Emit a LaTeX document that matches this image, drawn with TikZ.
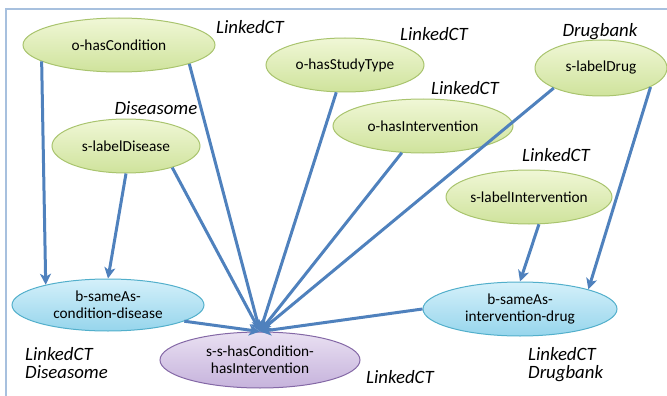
\documentclass[tikz,border=0pt]{standalone}
\usepackage{fontspec}
\setmainfont{Carlito}
\usetikzlibrary{shapes.geometric, arrows.meta}

\definecolor{grTop}{HTML}{F0F7D6}
\definecolor{grBot}{HTML}{CFE39C}
\definecolor{grLine}{HTML}{A9C46E}
\definecolor{blTop}{HTML}{D4F0FA}
\definecolor{blBot}{HTML}{96D5EC}
\definecolor{blLine}{HTML}{52AFCB}
\definecolor{puTop}{HTML}{E9E0F2}
\definecolor{puBot}{HTML}{C6B3DC}
\definecolor{puLine}{HTML}{8468A6}
\definecolor{arr}{HTML}{4F81BD}
\definecolor{frame}{HTML}{A7C0DE}

\tikzset{
    ell/.style={ellipse, inner sep=0pt, line width=1pt, align=center,
        font=\fontsize{15.3}{17}\selectfont},
    greenell/.style={ell, draw=grLine, top color=grTop, bottom color=grBot},
    blueell/.style={ell, draw=blLine, top color=blTop, bottom color=blBot},
    purpleell/.style={ell, draw=puLine, top color=puTop, bottom color=puBot},
    src/.style={font=\fontsize{18.8}{18}\selectfont\itshape, inner sep=0pt, align=left},
    link/.style={arr, line width=3pt, -{Stealth[length=11pt, width=11pt, inset=3pt]}}
}

\begin{document}
\begin{tikzpicture}[x=1pt, y=-1pt]
    \useasboundingbox (0,0) rectangle (667,396);

    % frame
    \draw[frame, line width=1.5pt] (6,396) -- (6,9) -- (667,9);

    % sources
    \node[greenell, minimum width=192, minimum height=54] (cond) at (119,45) {o-hasCondition};
    \node[greenell, minimum width=158, minimum height=54] (study) at (345,65) {o-hasStudyType};
    \node[greenell, minimum width=132, minimum height=56] (drug) at (601,68) {s-labelDrug};
    \node[greenell, minimum width=180, minimum height=54] (interv) at (423,126) {o-hasIntervention};
    \node[greenell, minimum width=148, minimum height=54] (dis) at (126,146) {s-labelDisease};
    \node[greenell, minimum width=164, minimum height=54] (sint) at (529,197) {s-labelIntervention};

    % sameAs
    \node[blueell, minimum width=192, minimum height=52] (bcd) at (108,305) {b-sameAs-\\condition-disease};
    \node[blueell, minimum width=194, minimum height=54] (bid) at (520,309) {b-sameAs-\\intervention-drug};

    % result
    \node[purpleell, minimum width=200, minimum height=56] (hub) at (260,360) {s-s-hasCondition-\\hasIntervention};

    % dataset labels
    \node[src] (lcond) at (250,27) {LinkedCT};
    \node[src] (ldis) at (156,108) {Diseasome};
    \node[src] (lstudy) at (434,34) {LinkedCT};
    \node[src] (ldrug) at (600,32) {Drugbank};
    \node[src] (linterv) at (465,88) {LinkedCT};
    \node[src] (lsint) at (556,155) {LinkedCT};
    \node[src, anchor=west] (lbcd) at (25,363) {LinkedCT\\Diseasome};
    \node[src] (lhub) at (400,377) {LinkedCT};
    \node[src, anchor=west] (lbid) at (528,365) {LinkedCT\\Drugbank};

    % links
    \draw[link] (cond.192) -- (bcd.162);
    \draw[link] (dis.south) -- (bcd.north);
    \draw[link] (cond.345) -- (hub.north);
    \draw[link] (dis.335) -- (hub.north);
    \draw[link] (study) -- (hub.north);
    \draw[link] (interv) -- (hub.north);
    \draw[link] (drug.203) -- (hub.north);
    \draw[link] (bcd.348) -- (hub.north);
    \draw[link] (bid.west) -- (hub.north);
    \draw[link] (drug.339) -- (bid.16);
    \draw[link] (sint.290) -- (bid.north);

\end{tikzpicture}
\end{document}
